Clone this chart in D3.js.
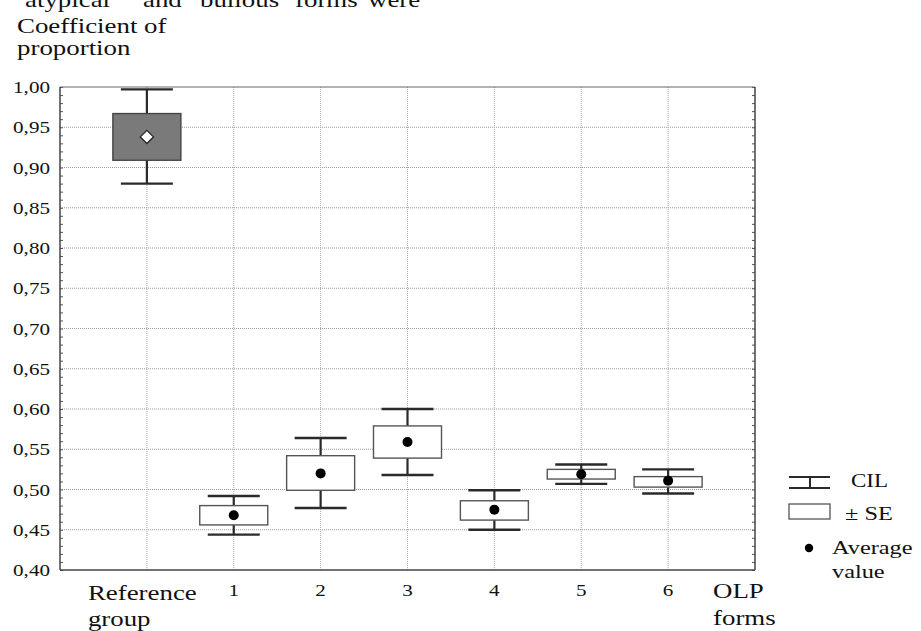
<!DOCTYPE html>
<html><head><meta charset="utf-8">
<script src="https://cdn.jsdelivr.net/npm/d3@7/dist/d3.min.js"></script>
<style>body{margin:0;background:#fff}svg{display:block}</style>
</head><body>
<svg id="c" width="921" height="631"></svg>
<script>
const categories = ["Reference group", "1", "2", "3", "4", "5", "6"];
const means  = [0.938, 0.468, 0.520, 0.559, 0.475, 0.519, 0.511];
const seLow  = [0.909, 0.456, 0.499, 0.539, 0.462, 0.513, 0.503];
const seHigh = [0.967, 0.480, 0.542, 0.579, 0.486, 0.525, 0.516];
const ciLow  = [0.880, 0.444, 0.477, 0.518, 0.450, 0.507, 0.495];
const ciHigh = [0.997, 0.492, 0.564, 0.600, 0.499, 0.531, 0.525];
const yTicks = [0.40,0.45,0.50,0.55,0.60,0.65,0.70,0.75,0.80,0.85,0.90,0.95,1.00];
const yTickLabels = ["0,40","0,45","0,50","0,55","0,60","0,65","0,70","0,75","0,80","0,85","0,90","0,95","1,00"];
const topWords = ["atypical","and","bullous","forms","were"];
const legendItems = ["CIL","\u00B1 SE","Average","value"];

const svg = d3.select("#c");
const FONT = "'Liberation Serif','Times New Roman',serif";
const SX = 1.28;
const L = 60, R = 755, T = 87, B = 570;
const x = d3.scalePoint().domain(categories).range([L, R]).padding(1);
const y = d3.scaleLinear().domain([0.40, 1.00]).range([B, T]);

function txt(px, py, s, size, anchor) {
  const g = svg.append("g").attr("transform", `translate(${px},${py}) scale(${SX},1)`);
  g.append("text").attr("x", 0).attr("y", 0).attr("text-anchor", anchor || "start")
    .attr("font-family", FONT).attr("font-size", size).attr("fill", "#111").text(s);
  return g;
}

// header text, clipped by the top edge as in the source page
const wx = [25, 143, 200, 295, 368];
topWords.forEach((w, i) => txt(wx[i], 7, w, 21));
txt(17, 33, "Coefficient of", 21);
txt(17, 55, "proportion", 21);

// grid
const grid = svg.append("g");
yTicks.filter(v => v > 0.401 && v < 0.999).forEach(v => {
  grid.append("line").attr("x1", L).attr("x2", R).attr("y1", y(v)).attr("y2", y(v))
    .attr("stroke", "#999").attr("stroke-width", 1).attr("stroke-dasharray", "1,1");
});
categories.forEach(c => {
  grid.append("line").attr("x1", x(c)).attr("x2", x(c)).attr("y1", T).attr("y2", B)
    .attr("stroke", "#aaa").attr("stroke-width", 1).attr("stroke-dasharray", "1,1");
});

// minor ticks (left & right, inward)
const minor = d3.range(0, 61).map(i => 0.40 + i * 0.01);
svg.append("g").attr("transform", `translate(${L},0)`)
  .call(d3.axisRight(y).tickValues(minor).tickSize(3).tickFormat(""))
  .call(g => g.select(".domain").remove())
  .selectAll("line").attr("stroke", "#555");
svg.append("g").attr("transform", `translate(${R},0)`)
  .call(d3.axisLeft(y).tickValues(minor).tickSize(3).tickFormat(""))
  .call(g => g.select(".domain").remove())
  .selectAll("line").attr("stroke", "#555");

// frame
svg.append("line").attr("x1", L).attr("x2", R).attr("y1", T).attr("y2", T).attr("stroke", "#666").attr("stroke-width", 1.2);
svg.append("line").attr("x1", L).attr("x2", R).attr("y1", B).attr("y2", B).attr("stroke", "#444").attr("stroke-width", 1.5);
svg.append("line").attr("x1", L).attr("x2", L).attr("y1", T).attr("y2", B).attr("stroke", "#444").attr("stroke-width", 1.5);
svg.append("line").attr("x1", R).attr("x2", R).attr("y1", T).attr("y2", B).attr("stroke", "#444").attr("stroke-width", 1.5);

// y tick labels
yTicks.forEach((v, i) => txt(50, y(v) + 6, yTickLabels[i], 16.5, "end"));

// x labels
categories.forEach((c, i) => {
  if (i === 0) {
    txt(x(c) - 59, 600, "Reference", 21);
    txt(x(c) - 59, 626, "group", 21);
  } else {
    txt(x(c), 596, c, 16.5, "middle");
  }
});
txt(713, 598, "OLP", 21);
txt(713, 625, "forms", 21);

// boxes
const BW = 68, CW = 52;
categories.forEach((c, i) => {
  const cx = x(c);
  const g = svg.append("g");
  g.append("line").attr("x1", cx).attr("x2", cx).attr("y1", y(ciHigh[i])).attr("y2", y(ciLow[i]))
    .attr("stroke", "#2a2a2a").attr("stroke-width", 2.2);
  [ciHigh[i], ciLow[i]].forEach(v => g.append("line").attr("x1", cx - CW/2).attr("x2", cx + CW/2)
    .attr("y1", y(v)).attr("y2", y(v)).attr("stroke", "#2a2a2a").attr("stroke-width", 2.4));
  g.append("rect").attr("x", cx - BW/2).attr("y", y(seHigh[i])).attr("width", BW)
    .attr("height", y(seLow[i]) - y(seHigh[i]))
    .attr("fill", i === 0 ? "#7a7a7a" : "#fff").attr("stroke", i === 0 ? "#444" : "#555").attr("stroke-width", 1.4);
  if (i === 0) {
    g.append("path").attr("d", d3.symbol(d3.symbolDiamond2, 110)())
      .attr("transform", `translate(${cx},${y(means[i])})`)
      .attr("fill", "#fff").attr("stroke", "#222").attr("stroke-width", 1.3);
  } else {
    g.append("circle").attr("cx", cx).attr("cy", y(means[i])).attr("r", 5).attr("fill", "#000");
  }
});

// legend
const lg = svg.append("g");
lg.append("line").attr("x1", 810).attr("x2", 810).attr("y1", 477).attr("y2", 488).attr("stroke", "#2a2a2a").attr("stroke-width", 2);
[477, 488].forEach(yy => lg.append("line").attr("x1", 789).attr("x2", 830).attr("y1", yy).attr("y2", yy).attr("stroke", "#2a2a2a").attr("stroke-width", 2.2));
lg.append("rect").attr("x", 789).attr("y", 504).attr("width", 41).attr("height", 15).attr("fill", "#fff").attr("stroke", "#555").attr("stroke-width", 1.3);
lg.append("circle").attr("cx", 809).attr("cy", 548).attr("r", 4.2).attr("fill", "#000");
txt(851, 487, legendItems[0], 18);
txt(845, 520, legendItems[1], 19);
txt(832, 554, legendItems[2], 19);
txt(832, 578, legendItems[3], 19);
</script>
</body></html>
